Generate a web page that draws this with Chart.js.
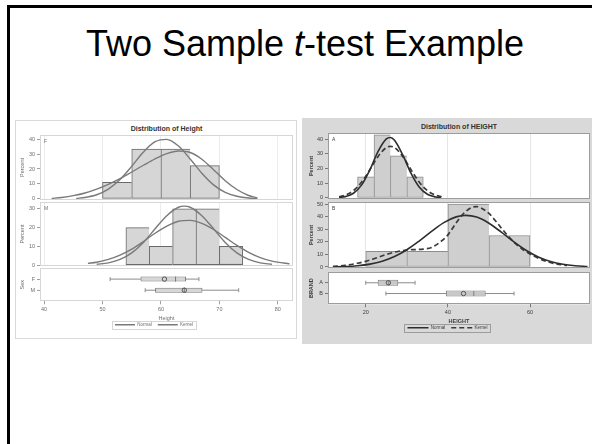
<!DOCTYPE html>
<html>
<head>
<meta charset="utf-8">
<script src="https://cdn.jsdelivr.net/npm/chart.js@4.4.1/dist/chart.umd.min.js"></script>
<style>
  html, body { margin: 0; padding: 0; width: 592px; height: 444px; overflow: hidden; background: #fff; }
  body { position: relative; font-family: 'Liberation Sans', Arial, sans-serif; }
  .slide-edge { position: absolute; left: 7px; top: 5px; width: 620px; height: 460px; border-left: 3px solid #000; border-top: 3px solid #000; }
  .slide-title { position: absolute; left: 0; width: 610px; top: 26px; margin: 0; font-size: 36px; line-height: 36px; font-weight: normal; text-align: center; color: #000; }
  .panel-sex { position: absolute; left: 15px; top: 120px; width: 282px; height: 219px; border: 1px solid #d9d9d9; box-sizing: border-box; background: #fff; }
  .panel-brand { position: absolute; left: 302px; top: 118px; width: 300px; height: 226px; background: #d9d9d9; }
  .panel-title { position: absolute; font-size: 7px; line-height: 8px; font-weight: bold; text-align: center; color: #333; }
  canvas { position: absolute; }
</style>
</head>
<body>
<div class="slide-edge"></div>
<h1 class="slide-title">Two Sample <i>t</i>-test Example</h1>

<div class="panel-sex"></div>
<div class="panel-title" style="left:40px;width:253px;top:125px">Distribution of Height</div>
<canvas id="sexF" width="279" height="77" style="left:15px;top:129px"></canvas>
<canvas id="sexM" width="279" height="76" style="left:15px;top:196px"></canvas>
<canvas id="sexBox" width="303" height="75" style="left:15px;top:262px"></canvas>

<div class="panel-brand"></div>
<div class="panel-title" style="left:328px;width:262px;top:123px">Distribution of HEIGHT</div>
<canvas id="brandA" width="286" height="78" style="left:305px;top:127px"></canvas>
<canvas id="brandB" width="286" height="78" style="left:305px;top:196px"></canvas>
<canvas id="brandBox" width="308" height="74" style="left:305px;top:266px"></canvas>

<script>
// ---- Height by Sex ----
const sexGroups = ['F', 'M'];
const sexAxis = { min: 39.3, max: 82.6 };
const sexHeightTicks = [40, 50, 60, 70, 80];

const femaleBinMid = [52.5, 57.5, 62.5, 67.5];
const femalePercent = [11.1, 33.3, 33.3, 22.2];
const femalePercentTicks = [0, 10, 20, 30, 40];
const femaleNormalX = [45.5, 47, 49, 51, 53, 55, 57, 59, 61, 63, 65, 67, 69, 71, 73, 75, 76.5];
const femaleNormalY = [0.4, 1.0, 2.8, 6.6, 13.0, 21.8, 31.3, 38.2, 39.8, 35.3, 26.7, 17.2, 9.4, 4.4, 1.8, 0.6, 0.3];
const femaleKernelX = [41.3, 43, 45, 47, 49, 51, 53, 55, 57, 59, 61, 63, 65, 67, 69, 71, 73, 75, 76.5];
const femaleKernelY = [0.3, 1.0, 2.2, 4.0, 6.6, 9.8, 13.6, 18.0, 22.5, 26.8, 30.3, 32.0, 31.0, 26.5, 19.5, 12.2, 6.3, 2.3, 0.7];

const maleBinMid = [56, 60, 64, 68, 72];
const malePercent = [20, 10, 30, 30, 10];
const malePercentTicks = [0, 10, 20, 30];
const maleNormalX = [49, 51, 53, 55, 57, 59, 61, 63, 64, 65, 67, 69, 71, 73, 75, 77, 79];
const maleNormalY = [0.4, 1.2, 3.0, 6.5, 12.1, 19.4, 26.4, 30.9, 31.5, 30.9, 26.4, 19.4, 12.1, 6.5, 3.0, 1.2, 0.4];
const maleKernelX = [47.5, 49, 51, 53, 55, 57, 59, 61, 63, 65, 67, 69, 71, 73, 75, 77, 79, 81, 82];
const maleKernelY = [0.9, 1.5, 3.0, 5.3, 8.5, 12.6, 17.0, 20.8, 23.4, 23.9, 22.3, 19.0, 14.8, 10.5, 6.8, 4.0, 2.1, 1.1, 0.7];

const sexLow = [51.3, 57.3];
const sexQ1 = [56.5, 59.0];
const sexMedian = [62.5, 64.0];
const sexMean = [60.6, 64.0];
const sexQ3 = [64.3, 67.1];
const sexHigh = [66.5, 73.3];

// ---- HEIGHT by BRAND ----
const brandGroups = ['A', 'B'];
const brandAxis = { min: 10.8, max: 74.6 };
const brandHeightTicks = [20, 40, 60];

const brandABinMid = [20, 24, 28, 32];
const brandAPercent = [14.3, 42.9, 28.6, 14.3];
const brandAPercentTicks = [0, 10, 20, 30, 40];
const brandANormalX = [13.5, 15, 17, 19, 21, 23, 25, 26, 27, 29, 31, 33, 35, 37, 38.3];
const brandANormalY = [0.3, 0.9, 3.2, 8.9, 19.1, 31.6, 40.1, 41.0, 39.1, 29.2, 16.8, 7.4, 2.5, 0.7, 0.2];
const brandAKernelX = [13.5, 15, 17, 19, 21, 23, 25, 26, 27, 29, 31, 33, 35, 37, 38.5];
const brandAKernelY = [0.8, 1.9, 5.0, 10.8, 19.2, 28.2, 34.2, 35.0, 34.2, 28.2, 19.2, 10.8, 5.0, 1.9, 0.8];

const brandBBinMid = [25, 35, 45, 55];
const brandBPercent = [12.5, 12.5, 50, 25];
const brandBPercentTicks = [0, 10, 20, 30, 40, 50];
const brandBNormalX = [12, 15, 18, 21, 24, 27, 30, 33, 36, 39, 42, 44.4, 47, 50, 53, 56, 59, 62, 65, 68, 71, 74];
const brandBNormalY = [0.2, 0.4, 1.0, 2.3, 4.6, 8.3, 13.7, 20.6, 28.2, 35.2, 39.8, 41.0, 39.6, 34.7, 27.7, 20.1, 13.3, 8.0, 4.4, 2.2, 1.0, 0.4];
const brandBKernelX = [12, 15, 18, 20, 22, 25, 28, 30, 32, 34, 36, 38, 40, 42, 44, 46, 47, 48, 50, 52, 54, 56, 58, 60, 62, 64, 66, 68, 69];
const brandBKernelY = [0.5, 1.3, 3.0, 4.5, 6.5, 10.0, 12.5, 13.5, 13.8, 14.2, 15.5, 19.5, 25.5, 35.0, 43.0, 47.5, 48.0, 47.0, 42.5, 35.0, 27.0, 20.0, 14.5, 10.3, 7.0, 4.5, 2.7, 1.6, 1.2];

const brandLow = [20.0, 24.9];
const brandQ1 = [22.9, 39.5];
const brandMedian = [25.6, 46.3];
const brandMean = [25.5, 43.8];
const brandQ3 = [27.9, 49.2];
const brandHigh = [32.0, 56.1];

const curveNames = ['Normal', 'Kernel'];

Chart.defaults.font.family = "'Liberation Sans', Arial, sans-serif";
Chart.defaults.animation = false;
Chart.defaults.events = [];

const sexTheme = {
  frame: '#d6d6d6', grid: '#ececec', tick: '#a0a0a0', text: '#6e6e6e', weight: 'normal',
  barFill: '#d6d6d6', barEdge: '#6a6a6a',
  curveColors: ['#7a7a7a', '#7a7a7a'], curveWidths: [1.4, 1.4], curveDashes: [[], []],
  boxFill: '#d6d6d6', boxEdge: '#777777', whisker: '#8c8c8c', boxPct: 0.45,
  axisWidth: 25, titlePad: 4, legendLine: 20
};
const brandTheme = {
  frame: '#9c9c9c', grid: '#e6e6e6', tick: '#7a7a7a', text: '#3c3c3c', weight: 'bold',
  barFill: '#cfcfcf', barEdge: '#8c8c8c',
  curveColors: ['#2e2e2e', '#3a3a3a'], curveWidths: [1.6, 1.7], curveDashes: [[], [5, 3]],
  boxFill: '#c8c8c8', boxEdge: '#808080', whisker: '#8c8c8c', boxPct: 0.55,
  axisWidth: 23, titlePad: 3, legendLine: 21
};

const xy = (xs, ys) => xs.map((x, i) => ({ x, y: ys[i] }));
const fixedTicks = values => s => { s.ticks = values.map(value => ({ value })); };

// Frame around the plot area, white backing, the panel letter in its corner
// and a thin box round the legend.
const panelFrame = {
  id: 'panelFrame',
  beforeDraw(chart) {
    const { ctx, chartArea: a } = chart;
    ctx.save();
    ctx.fillStyle = '#fff';
    ctx.fillRect(a.left, a.top, a.width, a.height);
    ctx.restore();
  },
  afterDraw(chart, args, opts) {
    const { ctx, chartArea: a } = chart;
    ctx.save();
    ctx.strokeStyle = opts.color;
    ctx.lineWidth = 1;
    ctx.strokeRect(Math.round(a.left) + 0.5, Math.round(a.top) + 0.5, Math.round(a.width) - 1, Math.round(a.height) - 1);
    if (opts.label) {
      ctx.fillStyle = opts.textColor;
      ctx.font = "5px 'Liberation Sans', Arial, sans-serif";
      ctx.textBaseline = 'top';
      ctx.fillText(opts.label, a.left + 4, a.top + 4);
    }
    const lg = chart.legend;
    if (lg && lg.options.display && lg.legendHitBoxes.length) {
      const hb = lg.legendHitBoxes;
      const l = Math.min(...hb.map(b => b.left)) - 3;
      const r = Math.max(...hb.map(b => b.left + b.width)) + 3;
      const t = Math.min(...hb.map(b => b.top)) - 1.5;
      const btm = Math.max(...hb.map(b => b.top + b.height)) + 1.5;
      ctx.strokeStyle = opts.color;
      ctx.strokeRect(Math.round(l) + 0.5, Math.round(t) + 0.5, Math.round(r - l), Math.round(btm - t));
    }
    ctx.restore();
  }
};

const tickFont = { size: 5.5, weight: 'normal' };

function histChart(id, p) {
  const t = p.theme;
  const last = p.mids.length - 1;
  const curve = (xs, ys, i) => ({
    type: 'line', order: 1, data: xy(xs, ys),
    borderColor: t.curveColors[i], borderWidth: t.curveWidths[i], borderDash: t.curveDashes[i],
    pointRadius: 0, cubicInterpolationMode: 'monotone'
  });
  return new Chart(document.getElementById(id), {
    type: 'bar',
    data: {
      datasets: [
        curve(p.normalX, p.normalY, 0),
        curve(p.kernelX, p.kernelY, 1),
        {
          type: 'bar', order: 2, data: xy(p.mids, p.percents),
          backgroundColor: t.barFill, borderColor: t.barEdge, borderSkipped: false,
          borderWidth: c => ({ top: 1, bottom: 1, left: 1, right: c.dataIndex === last ? 1 : 0 }),
          categoryPercentage: 1, barPercentage: 1
        }
      ]
    },
    options: {
      responsive: false,
      layout: { padding: { top: 6, right: 1, bottom: 6, left: 0 } },
      plugins: {
        legend: { display: false },
        tooltip: { enabled: false },
        panelFrame: { color: t.frame, label: p.label, textColor: t.text }
      },
      scales: {
        x: {
          type: 'linear', min: p.axis.min, max: p.axis.max, offset: false,
          afterBuildTicks: fixedTicks(p.xTicks),
          ticks: { display: false },
          grid: { color: t.grid, drawTicks: false, offset: false },
          border: { display: false }
        },
        y: {
          type: 'linear', min: p.yMin, max: p.yMax,
          afterBuildTicks: fixedTicks(p.yTicks),
          afterFit: s => { s.width = t.axisWidth; },
          ticks: { font: tickFont, color: t.text, padding: 2 },
          grid: { drawOnChartArea: false, tickLength: 3, color: t.tick },
          border: { display: false },
          title: { display: true, text: 'Percent', font: { size: 5.5, weight: t.weight }, color: t.text, padding: { top: t.titlePad, bottom: 0 } }
        }
      }
    },
    plugins: [panelFrame]
  });
}

function boxChart(id, p) {
  const t = p.theme;
  const datasets = p.groups.map((g, i) => ({
    type: 'line', order: 3,
    data: [{ x: p.low[i], y: i + 1 }, { x: p.high[i], y: i + 1 }],
    borderColor: t.whisker, borderWidth: 1,
    pointStyle: 'line', pointRotation: 90, pointRadius: 2, pointBorderColor: t.whisker, pointBorderWidth: 1
  }));
  datasets.push({
    type: 'bar', order: 2,
    data: p.groups.map((g, i) => ({ y: i + 1, x: [p.q1[i], p.q3[i]] })),
    backgroundColor: t.boxFill, borderColor: t.boxEdge, borderWidth: 1, borderSkipped: false,
    categoryPercentage: 1, barPercentage: t.boxPct
  });
  datasets.push({
    type: 'line', order: 1, showLine: false,
    data: p.groups.map((g, i) => ({ x: p.median[i], y: i + 1 })),
    pointStyle: 'line', pointRotation: 90, pointRadius: 2.5, pointBorderColor: t.boxEdge, pointBorderWidth: 1
  });
  datasets.push({
    type: 'line', order: 0, showLine: false,
    data: p.groups.map((g, i) => ({ x: p.mean[i], y: i + 1 })),
    pointStyle: 'circle', pointRadius: 2.2, pointBorderColor: '#555', pointBorderWidth: 1,
    pointBackgroundColor: 'rgba(0,0,0,0)'
  });
  return new Chart(document.getElementById(id), {
    type: 'bar',
    data: { datasets },
    options: {
      responsive: false,
      indexAxis: 'y',
      layout: { padding: { top: 6, right: p.padRight, bottom: 0, left: 0 } },
      plugins: {
        tooltip: { enabled: false },
        panelFrame: { color: t.frame, textColor: t.text },
        legend: {
          display: true, position: 'bottom',
          labels: {
            usePointStyle: true, pointStyleWidth: t.legendLine, boxHeight: 4, padding: 6,
            font: { size: 4.5 }, color: t.text,
            generateLabels: () => curveNames.map((text, i) => ({
              text, pointStyle: 'line', hidden: false,
              strokeStyle: t.curveColors[i], fillStyle: t.curveColors[i],
              lineWidth: t.curveWidths[i], lineDash: t.curveDashes[i], fontColor: t.text
            }))
          }
        }
      },
      scales: {
        x: {
          type: 'linear', min: p.axis.min, max: p.axis.max, offset: false,
          afterBuildTicks: fixedTicks(p.xTicks),
          ticks: { font: tickFont, color: t.text, padding: 2, maxRotation: 0 },
          grid: { drawOnChartArea: false, tickLength: 3, color: t.tick, offset: false },
          border: { display: false },
          title: { display: true, text: p.xTitle, font: { size: 5.5, weight: t.weight }, color: t.text, padding: { top: 0, bottom: -5 } }
        },
        y: {
          type: 'linear', min: 0, max: p.groups.length + 1, reverse: true, offset: false,
          afterBuildTicks: fixedTicks(p.groups.map((g, i) => i + 1)),
          afterFit: s => { s.width = t.axisWidth; },
          ticks: { callback: v => p.groups[v - 1], font: tickFont, color: t.text, padding: 2 },
          grid: { drawOnChartArea: false, tickLength: 3, color: t.tick, offset: false },
          border: { display: false },
          title: { display: true, text: p.yTitle, font: { size: 5.5, weight: t.weight }, color: t.text, padding: { top: t.titlePad, bottom: 0 } }
        }
      }
    },
    plugins: [panelFrame]
  });
}

histChart('sexF', {
  theme: sexTheme, axis: sexAxis, xTicks: sexHeightTicks, yTicks: femalePercentTicks,
  label: sexGroups[0], yMin: -0.7, yMax: 42.7,
  mids: femaleBinMid, percents: femalePercent,
  normalX: femaleNormalX, normalY: femaleNormalY, kernelX: femaleKernelX, kernelY: femaleKernelY
});
histChart('sexM', {
  theme: sexTheme, axis: sexAxis, xTicks: sexHeightTicks, yTicks: malePercentTicks,
  label: sexGroups[1], yMin: -0.5, yMax: 33.7,
  mids: maleBinMid, percents: malePercent,
  normalX: maleNormalX, normalY: maleNormalY, kernelX: maleKernelX, kernelY: maleKernelY
});
boxChart('sexBox', {
  theme: sexTheme, axis: sexAxis, xTicks: sexHeightTicks, groups: sexGroups,
  padRight: 25, xTitle: 'Height', yTitle: 'Sex',
  low: sexLow, q1: sexQ1, median: sexMedian, mean: sexMean, q3: sexQ3, high: sexHigh
});

histChart('brandA', {
  theme: brandTheme, axis: brandAxis, xTicks: brandHeightTicks, yTicks: brandAPercentTicks,
  label: brandGroups[0], yMin: -0.7, yMax: 44.1,
  mids: brandABinMid, percents: brandAPercent,
  normalX: brandANormalX, normalY: brandANormalY, kernelX: brandAKernelX, kernelY: brandAKernelY
});
histChart('brandB', {
  theme: brandTheme, axis: brandAxis, xTicks: brandHeightTicks, yTicks: brandBPercentTicks,
  label: brandGroups[1], yMin: -0.8, yMax: 51.6,
  mids: brandBBinMid, percents: brandBPercent,
  normalX: brandBNormalX, normalY: brandBNormalY, kernelX: brandBKernelX, kernelY: brandBKernelY
});
boxChart('brandBox', {
  theme: brandTheme, axis: brandAxis, xTicks: brandHeightTicks, groups: brandGroups,
  padRight: 23, xTitle: 'HEIGHT', yTitle: 'BRAND',
  low: brandLow, q1: brandQ1, median: brandMedian, mean: brandMean, q3: brandQ3, high: brandHigh
});
</script>
</body>
</html>
